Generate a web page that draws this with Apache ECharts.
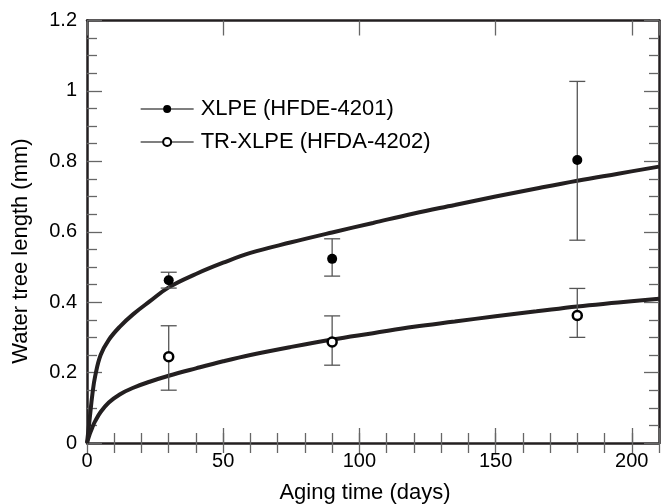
<!DOCTYPE html>
<html>
<head>
<meta charset="utf-8">
<script src="https://cdn.jsdelivr.net/npm/echarts@6/dist/echarts.min.js"></script>
<style>
  html, body { margin: 0; padding: 0; background: #fff; }
  #chart { width: 662px; height: 504px; }
</style>
</head>
<body>
<div id="chart"></div>
<script>
// measured points (days, mm) with error bar ends
const days = [30, 90, 180];
const xlpe = [0.462, 0.523, 0.804];
const xlpeLow = [0.44, 0.474, 0.576];
const xlpeHigh = [0.485, 0.580, 1.027];
const trXlpe = [0.245, 0.287, 0.362];
const trLow = [0.15, 0.221, 0.30];
const trHigh = [0.333, 0.361, 0.439];

// fitted curves
const fitDays = [0, 1, 2, 3, 5, 8, 12, 17, 23, 30, 40, 50, 60, 75, 90, 105, 120, 135, 150, 165, 180, 195, 210];
const fitXlpe = [0, 0.07, 0.14, 0.19, 0.25, 0.293, 0.33, 0.366, 0.402, 0.442, 0.48, 0.512, 0.54, 0.57, 0.598, 0.625, 0.652, 0.676, 0.70, 0.723, 0.745, 0.765, 0.785];
const fitTr = [0, 0.025, 0.045, 0.062, 0.088, 0.115, 0.138, 0.157, 0.174, 0.191, 0.212, 0.232, 0.25, 0.273, 0.294, 0.312, 0.33, 0.345, 0.36, 0.374, 0.388, 0.399, 0.41];

const names = ['XLPE (HFDE-4201)', 'TR-XLPE (HFDA-4202)'];
const font = 'Liberation Sans, Arial, sans-serif';
const dark = '#231f20';
const tickColor = '#666';

const chart = echarts.init(document.getElementById('chart'));

const xBase = {
    type: 'value', min: 0, max: 210,
    axisLine: { show: false },
    axisLabel: { show: false },
    splitLine: { show: false }
};
const tickOnly = (position, interval, length) => Object.assign({}, xBase, {
    position: position,
    interval: interval,
    axisTick: { inside: true, length: length, lineStyle: { color: tickColor, width: 1.3 } }
});

const yAxisOf = (position) => ({
    type: 'value', min: 0, max: 1.2, interval: 0.2,
    position: position,
    axisLine: { show: true, onZero: false, lineStyle: { color: dark, width: 2.5 } },
    axisTick: { inside: true, length: 15, lineStyle: { color: tickColor, width: 1.3 } },
    minorTick: { show: true, splitNumber: 4, length: 10, lineStyle: { color: tickColor, width: 1.3 } },
    axisLabel: { show: position === 'left', color: '#000', fontSize: 20, fontFamily: font, margin: 10 },
    splitLine: { show: false }
});

const errorBars = (low, high) => ({
    type: 'custom',
    silent: true,
    z: 3,
    data: days.map((d, i) => [d, low[i], high[i]]),
    renderItem: (params, api) => {
        const lo = api.coord([api.value(0), api.value(1)]);
        const hi = api.coord([api.value(0), api.value(2)]);
        const w = 8;
        const style = { stroke: '#555', lineWidth: 1.3 };
        return {
            type: 'group',
            children: [
                { type: 'line', shape: { x1: lo[0], y1: lo[1], x2: hi[0], y2: hi[1] }, style: style },
                { type: 'line', shape: { x1: lo[0] - w, y1: lo[1], x2: lo[0] + w, y2: lo[1] }, style: style },
                { type: 'line', shape: { x1: hi[0] - w, y1: hi[1], x2: hi[0] + w, y2: hi[1] }, style: style }
            ]
        };
    }
});

const fitLine = (values) => ({
    type: 'line',
    data: fitDays.map((d, i) => [d, values[i]]),
    smooth: 0.4,
    showSymbol: false,
    silent: true,
    z: 2,
    lineStyle: { color: dark, width: 4 }
});

chart.setOption({
    animation: false,
    backgroundColor: '#fff',
    grid: { left: 87, right: -10, top: 20.5, bottom: 61, containLabel: false },
    legend: {
        data: names,
        orient: 'vertical',
        left: 135,
        top: 93,
        itemWidth: 53,
        itemHeight: 10,
        itemGap: 11,
        selectedMode: false,
        lineStyle: { color: '#555', width: 1.3, opacity: 1 },
        textStyle: { color: '#000', fontSize: 22, fontFamily: font, lineHeight: 22, padding: [0, 0, 0, 2] }
    },
    xAxis: [
        Object.assign({}, xBase, {
            position: 'bottom',
            interval: 50,
            axisLine: { show: true, onZero: false, lineStyle: { color: dark, width: 2.5 } },
            axisTick: { inside: true, length: 15, lineStyle: { color: tickColor, width: 1.3 } },
            axisLabel: {
                show: true, color: '#000', fontSize: 20, fontFamily: font, margin: 8,
                formatter: (v) => (v % 50 === 0 ? String(v) : '')
            }
        }),
        tickOnly('bottom', 10, 10),
        Object.assign(tickOnly('top', 50, 15), {
            axisLine: { show: true, onZero: false, lineStyle: { color: dark, width: 2.5 } }
        }),
        tickOnly('top', 10, 10)
    ],
    yAxis: [yAxisOf('left'), yAxisOf('right')],
    graphic: [
        {
            type: 'text', x: 365, y: 493,
            style: { text: 'Aging time (days)', fill: '#000', fontSize: 22, fontFamily: font, textAlign: 'center', textVerticalAlign: 'middle' }
        },
        {
            type: 'text', x: 21, y: 251, rotation: Math.PI / 2,
            style: { text: 'Water tree length (mm)', fill: '#000', fontSize: 22, fontFamily: font, textAlign: 'center', textVerticalAlign: 'middle' }
        }
    ],
    series: [
        fitLine(fitXlpe),
        fitLine(fitTr),
        errorBars(xlpeLow, xlpeHigh),
        errorBars(trLow, trHigh),
        {
            name: names[0],
            type: 'line',
            data: days.map((d, i) => [d, xlpe[i]]),
            symbol: 'circle',
            symbolSize: 10,
            z: 4,
            lineStyle: { opacity: 0 },
            itemStyle: { color: '#000' }
        },
        {
            name: names[1],
            type: 'line',
            data: days.map((d, i) => [d, trXlpe[i]]),
            symbol: 'circle',
            symbolSize: 9,
            z: 4,
            lineStyle: { opacity: 0 },
            itemStyle: { color: '#fff', borderColor: '#000', borderWidth: 2.5, opacity: 1 }
        }
    ]
});
</script>
</body>
</html>
